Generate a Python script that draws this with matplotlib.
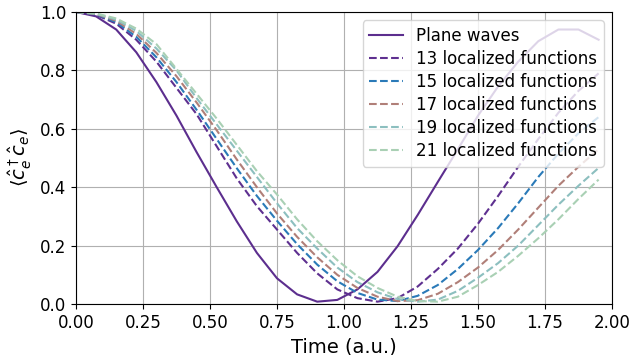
import numpy as np
import matplotlib
matplotlib.use("Agg")
import matplotlib.pyplot as plt

# Time grid (a.u.)
time = [0.0, 0.075, 0.15, 0.225, 0.3, 0.375, 0.45, 0.525, 0.6, 0.675,
        0.75, 0.825, 0.9, 0.975, 1.05, 1.125, 1.2, 1.275, 1.35, 1.425,
        1.5, 1.575, 1.65, 1.725, 1.8, 1.875, 1.95]

plane_waves = [1.0, 0.985, 0.94, 0.862, 0.76, 0.645, 0.52, 0.40, 0.283, 0.175,
               0.088, 0.033, 0.008, 0.014, 0.05, 0.11, 0.198, 0.305, 0.418, 0.53,
               0.645, 0.745, 0.83, 0.90, 0.94, 0.94, 0.905]

loc13 = [1.0, 0.99, 0.96, 0.905, 0.83, 0.74, 0.65, 0.54, 0.43, 0.335,
         0.255, 0.175, 0.105, 0.05, 0.02, 0.008, 0.02, 0.06, 0.12, 0.19,
         0.275, 0.37, 0.47, 0.565, 0.655, 0.73, 0.79]

loc15 = [1.0, 0.992, 0.965, 0.915, 0.845, 0.76, 0.665, 0.565, 0.465, 0.37,
         0.285, 0.205, 0.135, 0.078, 0.038, 0.015, 0.01, 0.028, 0.065, 0.12,
         0.185, 0.26, 0.345, 0.435, 0.515, 0.585, 0.64]

loc17 = [1.0, 0.993, 0.97, 0.925, 0.86, 0.78, 0.69, 0.595, 0.495, 0.40,
         0.31, 0.23, 0.16, 0.10, 0.055, 0.025, 0.01, 0.013, 0.035, 0.075,
         0.125, 0.185, 0.255, 0.33, 0.405, 0.47, 0.53]

loc19 = [1.0, 0.994, 0.974, 0.935, 0.875, 0.80, 0.705, 0.615, 0.525, 0.435,
         0.345, 0.26, 0.19, 0.125, 0.075, 0.04, 0.017, 0.008, 0.015, 0.045,
         0.09, 0.14, 0.2, 0.27, 0.34, 0.405, 0.466]

loc21 = [1.0, 0.995, 0.978, 0.943, 0.89, 0.805, 0.72, 0.635, 0.545, 0.455,
         0.375, 0.29, 0.215, 0.15, 0.095, 0.055, 0.025, 0.01, 0.008, 0.025,
         0.065, 0.11, 0.165, 0.225, 0.29, 0.36, 0.426]

localized = [(13, loc13, '#5e3090'), (15, loc15, '#2a7ab8'), (17, loc17, '#b07f78'),
             (19, loc19, '#8cbfbf'), (21, loc21, '#a9d0b4')]

plt.rcParams['font.size'] = 12

fig = plt.figure(figsize=(6.32, 3.55), dpi=100)
ax = fig.add_axes([76 / 632, 1 - 304 / 355, 536 / 632, 292 / 355])

ax.plot(time, plane_waves, color='#5c2e8e', lw=1.5, label='Plane waves')
for n, vals, c in localized:
    ax.plot(time, vals, '--', color=c, lw=1.5, label=f'{n} localized functions')

ax.set_xlim(0, 2.0)
ax.set_ylim(0, 1.0)
ax.set_xticks(np.arange(0, 2.01, 0.25))
ax.set_yticks(np.arange(0, 1.01, 0.2))
ax.grid(True)
ax.set_xlabel('Time (a.u.)', fontsize=14)
ax.set_ylabel(r'$\langle \hat{c}_e^\dagger \hat{c}_e \rangle$', fontsize=14)
ax.legend(loc='upper right', fontsize=12, handlelength=2.0,
          borderpad=0.4, labelspacing=0.3)

fig.savefig('out.png', dpi=100)
